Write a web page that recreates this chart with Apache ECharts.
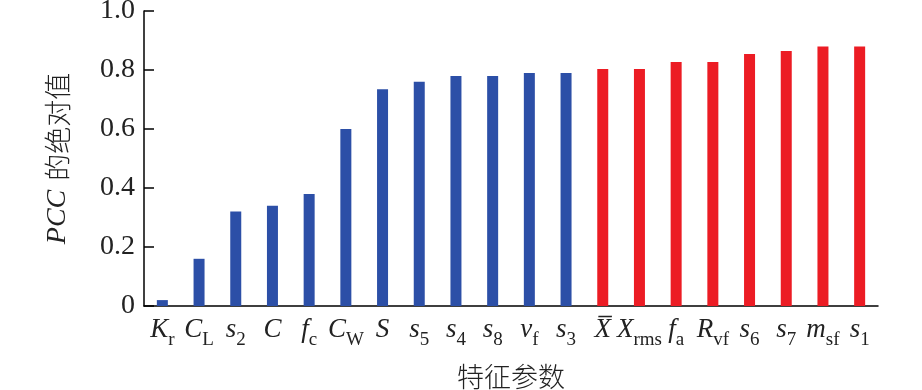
<!DOCTYPE html>
<html><head><meta charset="utf-8">
<script src="https://cdn.jsdelivr.net/npm/echarts@6/dist/echarts.min.js"></script>
<style>html,body{margin:0;padding:0;background:#fff}#c{width:922px;height:390px}</style>
</head><body><div id="c"></div>
<script>
// categories: main symbol + subscript
const catMain = ['K','C','s','C','f','C','S','s','s','s','v','s','X\u0305','X','f','R','s','s','m','s'];
const catSub  = ['r','L','2','','c','W','','5','4','8','f','3','','rms','a','vf','6','7','sf','1'];
// |PCC| values
const values = [0.02,0.16,0.32,0.34,0.38,0.60,0.735,0.76,0.78,0.78,0.79,0.79,0.803,0.803,0.827,0.827,0.854,0.864,0.88,0.88];
// group: 0 = blue, 1 = red
const groups = [0,0,0,0,0,0,0,0,0,0,0,0,1,1,1,1,1,1,1,1];
const yTicks = [0,0.2,0.4,0.6,0.8,1.0];

const colors = ['#2C4FA7','#EC1C24'];
const cats = catMain.map((m,i)=> i);
const chart = echarts.init(document.getElementById('c'));
const serif = '"Liberation Serif","Times New Roman",serif';
const cjk = '"Noto Sans CJK SC",serif';
chart.setOption({
  animation:false,
  grid:{left:144,right:44,top:11,bottom:84,containLabel:false,outerBoundsMode:'none'},
  xAxis:{
    type:'category', data:cats,
    axisLine:{lineStyle:{color:'#000',width:1.5}},
    axisTick:{inside:true,length:9,lineStyle:{color:'#333',width:1.5}},
    axisLabel:{
      margin:10,interval:0,
      formatter:(v)=>{const i=+v; return '{m|'+catMain[i]+'}{s|'+(catSub[i]||'\u200b')+'}';},
      rich:{
        m:{fontFamily:serif,fontStyle:'italic',fontSize:27,color:'#222',verticalAlign:'bottom',padding:[0,0,7,0]},
        s:{fontFamily:serif,fontSize:19,color:'#222',verticalAlign:'bottom'}
      }
    },
    name:'特征参数',nameLocation:'middle',nameGap:57,
    nameTextStyle:{fontFamily:cjk,fontSize:27,color:'#222',fontWeight:300}
  },
  yAxis:{
    type:'value',min:0,max:1,interval:0.2,
    axisLine:{show:true,lineStyle:{color:'#000',width:1.5}},
    axisTick:{show:true,inside:true,length:10,lineStyle:{color:'#000',width:1.5}},
    splitLine:{show:false},
    axisLabel:{margin:9,fontFamily:serif,fontSize:28,color:'#222',
      formatter:(v)=>{const t=yTicks.find(x=>Math.abs(x-v)<1e-9); return t===0?'0':t.toFixed(1);}},
    name:'{i|PCC}{c|的绝对值}',nameLocation:'middle',nameGap:72,nameRotate:90,
    nameTextStyle:{rich:{
      i:{fontFamily:serif,fontStyle:'italic',fontSize:28,color:'#222',padding:[0,9,0,0]},
      c:{fontFamily:cjk,fontSize:27,color:'#222',fontWeight:300}
    }}
  },
  series:[{
    type:'bar',barWidth:11,
    data:values.map((v,i)=>({value:v,itemStyle:{color:colors[groups[i]]}}))
  }]
});
</script></body></html>
